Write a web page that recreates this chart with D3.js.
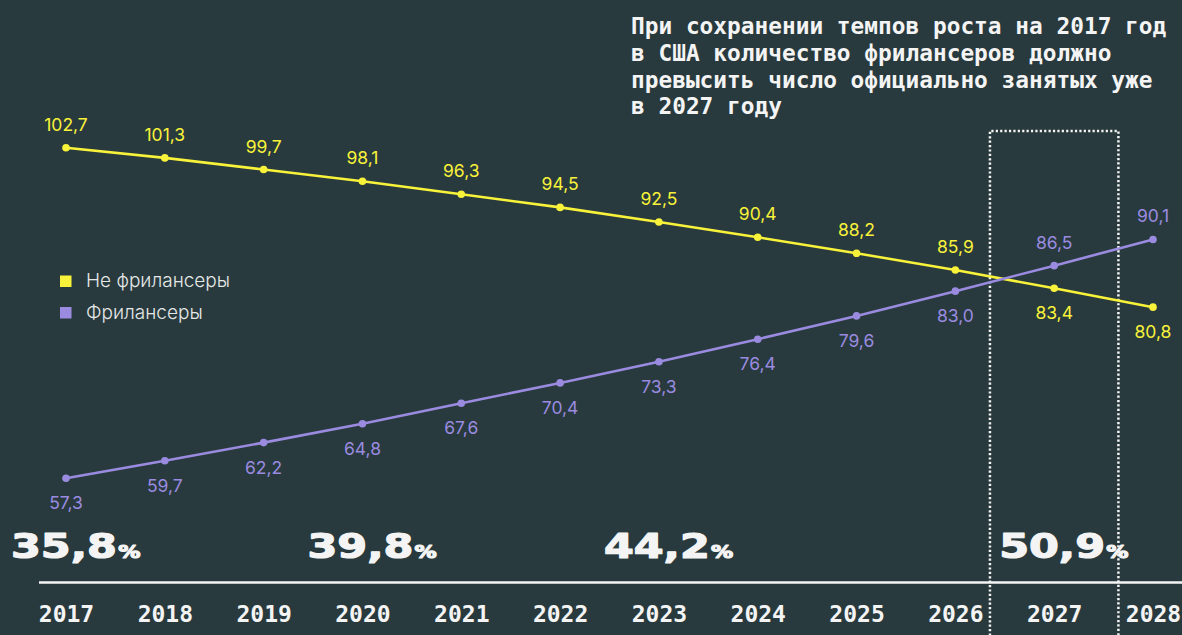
<!DOCTYPE html>
<html><head><meta charset="utf-8">
<script src="https://cdn.jsdelivr.net/npm/d3@7"></script>
<style>
html,body{margin:0;padding:0;background:#283a3d;}
svg{display:block;}
</style></head>
<body>
<script>
const years = [2017,2018,2019,2020,2021,2022,2023,2024,2025,2026,2027,2028];
const nonFreelancers = [102.7,101.3,99.7,98.1,96.3,94.5,92.5,90.4,88.2,85.9,83.4,80.8];
const freelancers = [57.3,59.7,62.2,64.8,67.6,70.4,73.3,76.4,79.6,83.0,86.5,90.1];
const shareYears = [2017,2020,2023,2027];
const shareValues = ["35,8","39,8","44,2","50,9"];
const seriesNames = ["Не фрилансеры","Фрилансеры"];
const highlightYears = [2026.35, 2027.65];
const titleLines = ["При сохранении темпов роста на 2017 год","в США количество фрилансеров должно","превысить число официально занятых уже","в 2027 году"];

const W = 1182, H = 635;
const BG = "#283a3d", YEL = "#f8f23a", PUR = "#9a8be0", WHITE = "#f4f4f4";

const svg = d3.select("body").append("svg").attr("width", W).attr("height", H);
svg.append("rect").attr("width", W).attr("height", H).attr("fill", BG);

const x = d3.scaleLinear().domain([2017, 2028]).range([66, 1153]);
const y = d3.scaleLinear().domain([57.3, 102.7]).range([478.3, 147.7]);

// highlight dotted box
const bx0 = x(highlightYears[0]), bx1 = x(highlightYears[1]);
svg.append("path")
  .attr("d", `M${bx0},${H+5} L${bx0},131 L${bx1},131 L${bx1},${H+5}`)
  .attr("fill", "none").attr("stroke", WHITE).attr("stroke-width", 2.5)
  .attr("stroke-dasharray", "2.2,2.2");

// axis line
svg.append("line").attr("x1", 39).attr("x2", W).attr("y1", 582.5).attr("y2", 582.5)
  .attr("stroke", WHITE).attr("stroke-width", 2.5);

// year axis
const axis = d3.axisBottom(x).tickValues(years).tickFormat(d3.format("d")).tickSize(0).tickPadding(0);
const ag = svg.append("g").attr("transform", "translate(0,622)").call(axis);
ag.select(".domain").remove();
ag.selectAll("text").attr("fill", WHITE).attr("dy", 0)
  .style("font-family", "'DejaVu Sans Mono', monospace").style("font-weight", "bold").style("font-size", "23px");

// lines
const lineGen = d3.line().x((d, i) => x(years[i])).y(d => y(d));
const series = [{vals: nonFreelancers, color: YEL, other: freelancers}, {vals: freelancers, color: PUR, other: nonFreelancers}];
series.forEach(s => {
  svg.append("path").datum(s.vals).attr("d", lineGen).attr("fill", "none")
    .attr("stroke", s.color).attr("stroke-width", 2.6);
  svg.selectAll(null).data(s.vals).enter().append("circle")
    .attr("cx", (d, i) => x(years[i])).attr("cy", d => y(d)).attr("r", 3.8).attr("fill", s.color);
  svg.selectAll(null).data(s.vals).enter().append("text")
    .attr("x", (d, i) => x(years[i]))
    .attr("y", (d, i) => d > s.other[i] ? y(d) - 17 : y(d) + 31)
    .attr("text-anchor", "middle").attr("fill", s.color)
    .style("font-family", "Inter, sans-serif").style("font-size", "17.5px").style("font-weight", 400)
    .text(d => d.toFixed(1).replace(".", ","));
});

// legend
const lg = svg.append("g");
[YEL, PUR].forEach((c, i) => {
  lg.append("rect").attr("x", 60).attr("y", 275.5 + i * 31.5).attr("width", 11.5).attr("height", 11.5).attr("fill", c);
  lg.append("text").attr("x", 86).attr("y", 287 + i * 31.5).attr("fill", "#e6e8e8")
    .style("font-family", "Inter, sans-serif").style("font-size", "19px").style("font-weight", 300)
    .text(seriesNames[i]);
});

// share labels
shareYears.forEach((yr, i) => {
  const g = svg.append("g").attr("transform", `translate(${x(yr) - 55},558) scale(1.3,1)`);
  const t = g.append("text").attr("x", 0).attr("y", 0).attr("fill", WHITE)
    .attr("stroke", WHITE).attr("stroke-width", 1.2).attr("stroke-linejoin", "round")
    .style("font-family", "'DejaVu Sans', sans-serif").style("font-weight", "bold");
  t.append("tspan").style("font-size", "33px").text(shareValues[i]);
  t.append("tspan").style("font-size", "17px").attr("dx", 1).text("%");
});

// title
const tt = svg.append("text").attr("fill", WHITE)
  .style("font-family", "'DejaVu Sans Mono', monospace").style("font-weight", "bold").style("font-size", "22.8px");
titleLines.forEach((l, i) => {
  tt.append("tspan").attr("x", 631).attr("y", 34 + i * 26.8).text(l);
});
</script>
</body></html>
